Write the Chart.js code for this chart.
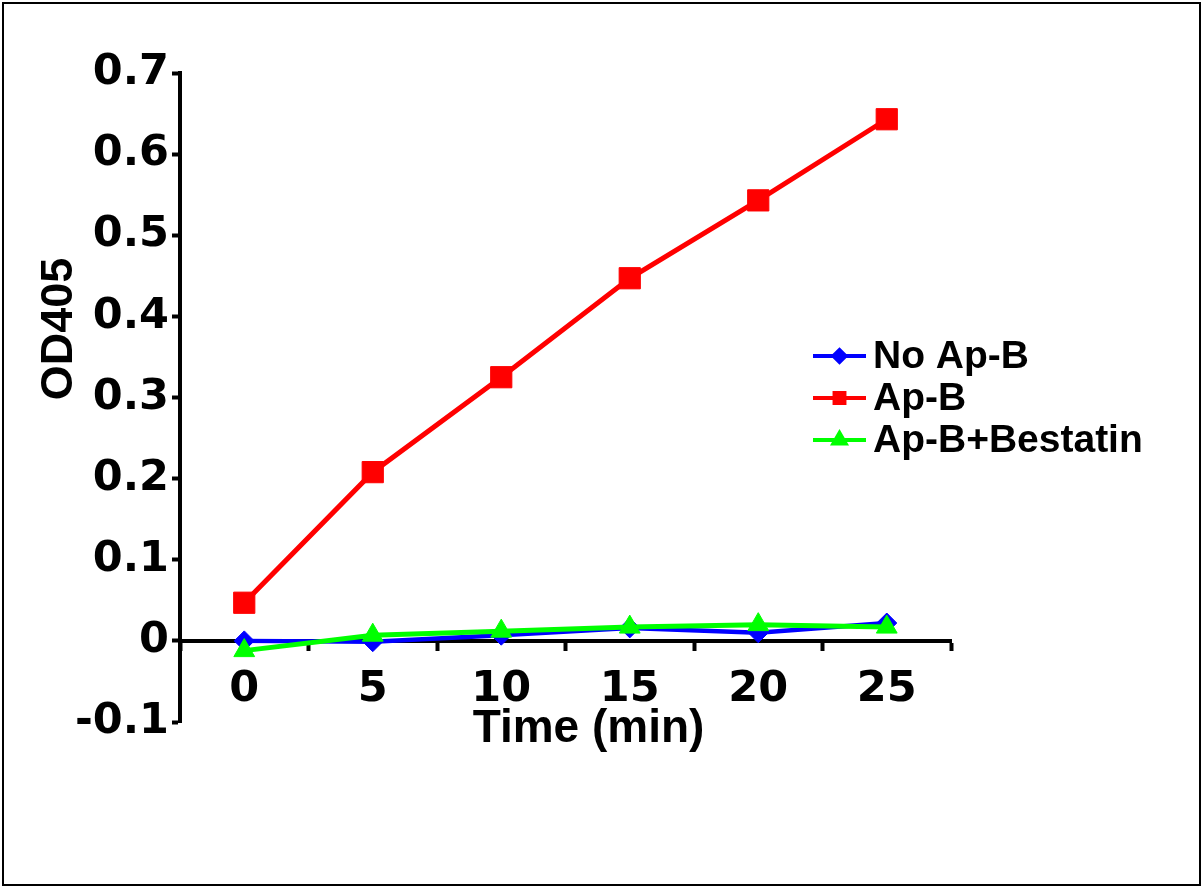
<!DOCTYPE html>
<html>
<head>
<meta charset="utf-8">
<script src="https://cdn.jsdelivr.net/npm/chart.js@4"></script>
<style>
  html, body { margin: 0; padding: 0; background: #fff; }
  canvas { display: block; }
</style>
</head>
<body>
<canvas id="c" width="1204" height="888"></canvas>
<script>
// Time points (min) shown on the x axis
const timeLabels = ['0', '5', '10', '15', '20', '25'];
// OD405 readings per condition
const noApB = [0.000, -0.001, 0.007, 0.016, 0.010, 0.022];
const apB = [0.047, 0.208, 0.325, 0.447, 0.543, 0.643];
const apBBestatin = [-0.012, 0.007, 0.012, 0.017, 0.020, 0.017];
const seriesNames = ['No Ap-B', 'Ap-B', 'Ap-B+Bestatin'];
// y axis tick values
const yTicks = [-0.1, 0, 0.1, 0.2, 0.3, 0.4, 0.5, 0.6, 0.7];

const FONT = "'Liberation Sans', Arial, Helvetica, sans-serif";
const TICK_FONT = "'DejaVu Sans', 'Liberation Sans', sans-serif";
Chart.defaults.font.family = FONT;
Chart.defaults.color = '#000';

// Axis titles, legend and outer frame
const decor = {
  id: 'decor',
  afterDraw(chart) {
    const ctx = chart.ctx;
    const xs = chart.scales.x;
    ctx.save();
    ctx.strokeStyle = '#000';
    ctx.lineWidth = 2;
    ctx.strokeRect(3, 3, 1197, 882);

    ctx.fillStyle = '#000';
    // y title
    ctx.save();
    ctx.translate(60, 329);
    ctx.rotate(-Math.PI / 2);
    ctx.font = 'bold 45px ' + FONT;
    ctx.textAlign = 'center';
    ctx.textBaseline = 'middle';
    ctx.fillText('OD405', 0, 0);
    ctx.restore();

    // x title
    ctx.font = 'bold 46px ' + FONT;
    ctx.textAlign = 'center';
    ctx.textBaseline = 'alphabetic';
    ctx.fillText('Time (min)', (xs.getPixelForValue(2) + xs.getPixelForValue(3)) / 2 + 23, 742);

    // legend
    const rows = [356, 398, 440];
    chart.data.datasets.forEach((ds, i) => {
      const y = rows[i];
      ctx.strokeStyle = ds.borderColor;
      ctx.fillStyle = ds.backgroundColor;
      ctx.lineWidth = 4;
      ctx.beginPath();
      ctx.moveTo(813, y);
      ctx.lineTo(866, y);
      ctx.stroke();
      Chart.helpers.drawPoint(ctx, {
        pointStyle: ds.pointStyle,
        radius: ds.legendRadius,
        rotation: 0,
        borderWidth: 1
      }, 839.5, y);
      ctx.fillStyle = '#000';
      ctx.font = 'bold 39px ' + FONT;
      ctx.textAlign = 'left';
      ctx.textBaseline = 'middle';
      ctx.fillText(seriesNames[i], 873, y + 1);
    });
    ctx.restore();
  }
};

new Chart(document.getElementById('c'), {
  type: 'line',
  data: {
    labels: timeLabels,
    datasets: [
      {
        label: seriesNames[0], data: noApB,
        borderColor: '#0000ff', backgroundColor: '#0000ff',
        borderWidth: 4.5, pointStyle: 'rectRot', pointRadius: 10, pointBorderWidth: 1,
        legendRadius: 6, order: 1
      },
      {
        label: seriesNames[1], data: apB,
        borderColor: '#ff0000', backgroundColor: '#ff0000',
        borderWidth: 5, pointStyle: 'rect', pointRadius: 15, pointBorderWidth: 1,
        legendRadius: 7, order: 2
      },
      {
        label: seriesNames[2], data: apBBestatin,
        borderColor: '#00ff00', backgroundColor: '#00ff00',
        borderWidth: 5, pointStyle: 'triangle', pointRadius: 12, pointBorderWidth: 1,
        legendRadius: 7, order: 0
      }
    ]
  },
  options: {
    responsive: false,
    animation: false,
    devicePixelRatio: 1,
    layout: { padding: { left: 0, top: 73, right: 253, bottom: 166 } },
    plugins: { legend: { display: false }, tooltip: { enabled: false } },
    elements: { line: { tension: 0 } },
    scales: {
      x: {
        type: 'category',
        offset: true,
        position: { y: 0 },
        grid: { offset: true, drawOnChartArea: false, tickLength: 8, tickWidth: 4, tickColor: '#000' },
        border: { display: true, width: 4, color: '#000' },
        ticks: { font: { family: TICK_FONT, size: 43, weight: 'bold' }, padding: 15, maxRotation: 0, autoSkip: false }
      },
      y: {
        type: 'linear',
        min: -0.1, max: 0.7,
        afterBuildTicks(s) { s.ticks = yTicks.map(v => ({ value: v })); },
        grid: { drawOnChartArea: false, tickLength: 8, tickWidth: 4, tickColor: '#000' },
        border: { display: true, width: 4, color: '#000' },
        ticks: {
          font: { family: TICK_FONT, size: 43, weight: 'bold' }, padding: 3,
          callback: v => (Math.abs(v) < 1e-9 ? '0' : v.toFixed(1))
        },
        afterFit(s) { s.width = 180; }
      }
    }
  },
  plugins: [decor]
});
</script>
</body>
</html>
